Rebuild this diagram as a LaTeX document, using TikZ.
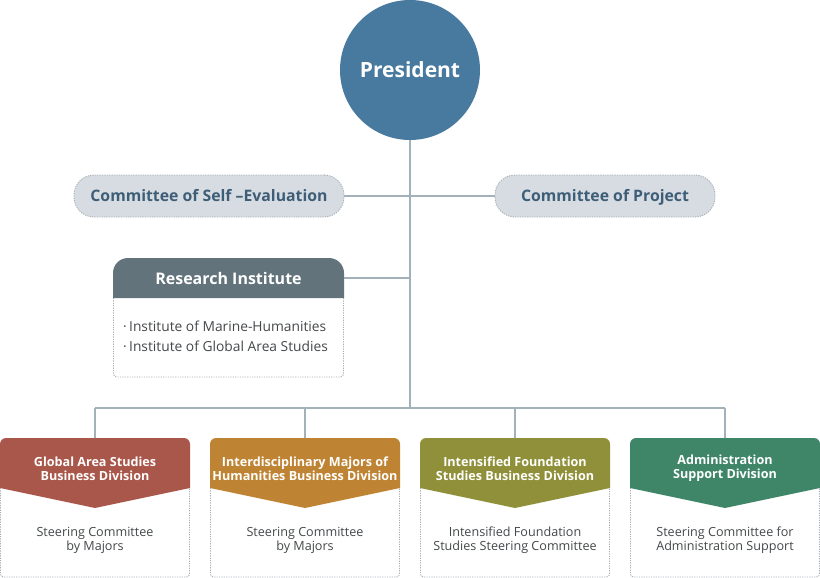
\documentclass[tikz,border=0pt]{standalone}
\usepackage{fontspec}
\setmainfont{Open Sans}
\usetikzlibrary{positioning}
\definecolor{presblue}{HTML}{487A9F}
\definecolor{linegray}{HTML}{A3B1BB}
\definecolor{pillgray}{HTML}{D6DCE1}
\definecolor{dotgray}{HTML}{A7AEB4}
\definecolor{navytext}{HTML}{3E5E78}
\definecolor{slate}{HTML}{62737B}
\definecolor{bodytext}{HTML}{444749}
\definecolor{divred}{HTML}{A9574A}
\definecolor{divorange}{HTML}{BF8433}
\definecolor{divolive}{HTML}{8F9039}
\definecolor{divgreen}{HTML}{3F8669}

\begin{document}
\begin{tikzpicture}[x=1pt,y=-1pt,
  link/.style={draw=linegray,line width=1.6pt},
  dotline/.style={draw=dotgray,line width=0.9pt,dash pattern=on 1.2pt off 1.2pt},
  pres/.style={circle,fill=presblue,text=white,minimum size=140pt,inner sep=0pt,
    font=\fontsize{21}{24}\selectfont\bfseries},
  pill/.style={dotline,fill=pillgray,rounded corners=20pt,minimum height=42pt,inner sep=0pt,
    text=navytext,text depth=0.25ex,font=\fontsize{15.8}{18}\selectfont\bfseries},
  headtext/.style={inner sep=0pt,align=center,text=white},
  divtext/.style={headtext,minimum width=190pt,minimum height=60pt,
    font=\fontsize{12.6}{14}\selectfont\bfseries},
  bodynode/.style={align=center,text=bodytext,inner sep=0pt,
    font=\fontsize{12.6}{14}\selectfont}]
\useasboundingbox (0,0) rectangle (820,578);

% president and committees
\node[pres] (pres) at (410,70) {President};
\node[pill,minimum width=270pt] (selfeval) at (209,196) {Committee of Self --Evaluation};
\node[pill,minimum width=220pt] (project) at (605,196) {Committee of Project};
\coordinate (hub) at (410,408);
\draw[link] (pres) -- (hub);
\draw[link] (selfeval) -- (project);

% research institute
\fill[slate,rounded corners=15pt] (113,298) -- (113,258) -- (344,258) [sharp corners] -- (344,298) -- cycle;
\draw[dotline,rounded corners=3pt] (113.5,298) -- (113.5,377) -- (343.5,377) -- (343.5,298);
\node[headtext,minimum width=231pt,minimum height=40pt,
  font=\fontsize{16}{18}\selectfont\bfseries] (resinst) at (228.5,278) {Research Institute};
\node[bodynode,align=left,anchor=north west,text=bodytext,
  font=\fontsize{13.8}{20}\selectfont] (institutes) at (123,321)
  {·\,Institute of Marine-Humanities\\·\,Institute of Global Area Studies};
\draw[link] (resinst.east) -- (resinst.east -| pres);

% divisions
\coordinate (busL) at (95,408);
\coordinate (busR) at (725,408);
\draw[link] (busL) -- (busR);

\fill[divred,rounded corners=6pt] (0,488) -- (0,438) -- (190,438) [sharp corners] -- (190,488) -- (95,508) -- cycle;
\fill[divorange,rounded corners=6pt] (210,488) -- (210,438) -- (400,438) [sharp corners] -- (400,488) -- (305,508) -- cycle;
\fill[divolive,rounded corners=6pt] (420,488) -- (420,438) -- (610,438) [sharp corners] -- (610,488) -- (515,508) -- cycle;
\fill[divgreen,rounded corners=6pt] (630,488) -- (630,438) -- (820,438) [sharp corners] -- (820,488) -- (725,508) -- cycle;

\draw[dotline,rounded corners=3pt] (0.5,488) -- (0.5,577) -- (189.5,577) -- (189.5,488);
\draw[dotline,rounded corners=3pt] (210.5,488) -- (210.5,577) -- (399.5,577) -- (399.5,488);
\draw[dotline,rounded corners=3pt] (420.5,488) -- (420.5,577) -- (609.5,577) -- (609.5,488);
\draw[dotline,rounded corners=3pt] (630.5,488) -- (630.5,577) -- (819.5,577) -- (819.5,488);

\node[divtext] (global) at (95,468.5) {Global Area Studies\\Business Division};
\node[divtext] (interdisc) at (305,468.5) {Interdisciplinary Majors of\\Humanities Business Division};
\node[divtext] (intensified) at (515,468.5) {Intensified Foundation\\Studies Business Division};
\node[divtext] (admin) at (725,468.5) {Administration\\Support Division};

\node[bodynode] (globalsc) at (95,540) {Steering Committee\\by Majors};
\node[bodynode] (interdiscsc) at (305,540) {Steering Committee\\by Majors};
\node[bodynode] (intensifiedsc) at (515,540) {Intensified Foundation\\Studies Steering Committee};
\node[bodynode] (adminsc) at (725,540) {Steering Committee for\\Administration Support};

\draw[link] (global.north |- hub) -- (global.north);
\draw[link] (interdisc.north |- hub) -- (interdisc.north);
\draw[link] (intensified.north |- hub) -- (intensified.north);
\draw[link] (admin.north |- hub) -- (admin.north);
\end{tikzpicture}
\end{document}
